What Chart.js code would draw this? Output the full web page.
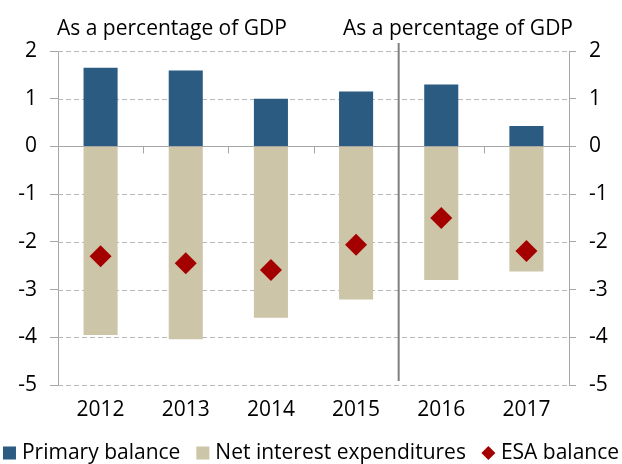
<!DOCTYPE html>
<html>
<head>
<meta charset="utf-8">
<script src="https://cdn.jsdelivr.net/npm/chart.js@4"></script>
<style>
  html, body { margin: 0; padding: 0; background: #fff; }
</style>
</head>
<body>
<canvas id="balanceChart" width="622" height="464"></canvas>
<script>
// data
const years = ["2012", "2013", "2014", "2015", "2016", "2017"];
const primaryBalance = [1.65, 1.59, 1.0, 1.15, 1.3, 0.43];
const netInterest = [-3.95, -4.04, -3.59, -3.21, -2.8, -2.62];
const esaBalance = [-2.3, -2.45, -2.59, -2.06, -1.5, -2.19];
const yMin = -5;
const yMax = 2;
const headerText = "As a percentage of GDP";
const seriesNames = ["Primary balance", "Net interest expenditures", "ESA balance"];

const BLUE = "#2B5B80";
const TAN = "#CCC5A8";
const RED = "#A50000";
const AXIS = "#A6A6A6";
const GRID = "#B8B8B8";
const FONT = "'Open Sans', sans-serif";

// zero line, category ticks on it, dashed grid and the 2015/2016 divider
const zeroLinePlugin = {
  id: "zeroLine",
  beforeDatasetsDraw(chart) {
    const { ctx, chartArea, scales } = chart;
    ctx.save();
    // dashed horizontal grid
    ctx.strokeStyle = GRID;
    ctx.lineWidth = 1;
    ctx.setLineDash([5, 3]);
    ctx.beginPath();
    for (let v = yMin; v <= yMax; v++) {
      if (v === 0) continue;
      const y = Math.round(scales.y.getPixelForValue(v)) + 0.5;
      ctx.moveTo(chartArea.left, y);
      ctx.lineTo(chartArea.right, y);
    }
    ctx.stroke();
    ctx.setLineDash([]);

    const y0 = Math.round(scales.y.getPixelForValue(0)) + 0.5;
    ctx.strokeStyle = AXIS;
    ctx.beginPath();
    ctx.moveTo(chartArea.left, y0);
    ctx.lineTo(chartArea.right, y0);
    for (let i = 0; i < years.length - 1; i++) {
      if (i === 3) continue;
      const x = Math.round(scales.x.getPixelForValue(i + 0.5)) + 0.5;
      ctx.moveTo(x, y0);
      ctx.lineTo(x, y0 + 7);
    }
    ctx.stroke();

    // divider between actual and forecast years
    const xd = scales.x.getPixelForValue(3.5);
    ctx.strokeStyle = "#7F7F7F";
    ctx.lineWidth = 2;
    ctx.beginPath();
    ctx.moveTo(xd, chartArea.top - 8);
    ctx.lineTo(xd, chartArea.bottom - 4);
    ctx.stroke();
    ctx.restore();
  },
};

const headerPlugin = {
  id: "headers",
  afterDraw(chart) {
    const { ctx, chartArea } = chart;
    ctx.save();
    ctx.fillStyle = "#000";
    ctx.font = "21px " + FONT;
    ctx.textBaseline = "alphabetic";
    ctx.textAlign = "left";
    ctx.fillText(headerText, chartArea.left - 1, 35);
    ctx.textAlign = "right";
    ctx.fillText(headerText, chartArea.right + 4, 35);
    ctx.restore();
  },
};

const legendPlugin = {
  id: "bottomLegend",
  afterDraw(chart) {
    const { ctx } = chart;
    const colors = [BLUE, TAN, RED];
    const box = 13;
    const gapText = 6;
    const gapItem = 16;
    const yc = 453;
    ctx.save();
    ctx.font = "21px " + FONT;
    let total = 0;
    seriesNames.forEach((name, i) => {
      total += box + gapText + ctx.measureText(name).width;
      if (i < seriesNames.length - 1) total += gapItem;
    });
    let x = (chart.width - total) / 2;
    seriesNames.forEach((name, i) => {
      ctx.fillStyle = colors[i];
      if (i < 2) {
        ctx.fillRect(x, yc - box / 2, box, box);
      } else {
        const r = 7;
        const cx = x + box / 2;
        ctx.beginPath();
        ctx.moveTo(cx, yc - r);
        ctx.lineTo(cx + r, yc);
        ctx.lineTo(cx, yc + r);
        ctx.lineTo(cx - r, yc);
        ctx.closePath();
        ctx.fill();
      }
      x += box + gapText;
      ctx.fillStyle = "#000";
      ctx.textBaseline = "middle";
      ctx.textAlign = "left";
      ctx.fillText(name, x, yc);
      x += ctx.measureText(name).width + gapItem;
    });
    ctx.restore();
  },
};

const ctx = document.getElementById("balanceChart").getContext("2d");

window.chart = new Chart(ctx, {
  type: "bar",
  data: {
    labels: years,
    datasets: [
      {
        label: seriesNames[0],
        data: primaryBalance,
        backgroundColor: BLUE,
        stack: "bal",
        barPercentage: 0.4,
        categoryPercentage: 1,
        order: 2,
      },
      {
        label: seriesNames[1],
        data: netInterest,
        backgroundColor: TAN,
        stack: "bal",
        barPercentage: 0.4,
        categoryPercentage: 1,
        order: 2,
      },
      {
        type: "line",
        label: seriesNames[2],
        data: esaBalance,
        stack: "esa",
        showLine: false,
        pointStyle: "rectRot",
        pointRadius: 11,
        pointBackgroundColor: RED,
        pointBorderColor: RED,
        pointBorderWidth: 0,
        order: 1,
      },
    ],
  },
  options: {
    responsive: false,
    animation: false,
    layout: { padding: { top: 51, left: 0, right: 0, bottom: 0 } },
    plugins: {
      legend: { display: false },
      title: { display: false },
      tooltip: { enabled: false },
    },
    scales: {
      x: {
        stacked: true,
        grid: { display: false, drawTicks: false },
        border: { display: false },
        ticks: { color: "#000", font: { family: FONT, size: 21 }, padding: 12 },
        afterFit: (s) => { s.height = 79; },
      },
      y: {
        stacked: true,
        min: yMin,
        max: yMax,
        position: "left",
        ticks: { stepSize: 1, color: "#000", font: { family: FONT, size: 21 }, padding: 13 },
        grid: { drawOnChartArea: false, tickColor: AXIS, tickLength: 8 },
        border: { color: AXIS },
        afterFit: (s) => { s.width = 58; },
      },
      y2: {
        min: yMin,
        max: yMax,
        position: "right",
        ticks: { stepSize: 1, color: "#000", font: { family: FONT, size: 21 }, padding: 13 },
        grid: { drawOnChartArea: false, tickColor: AXIS, tickLength: 7 },
        border: { color: AXIS },
        afterFit: (s) => { s.width = 53; },
      },
    },
  },
  plugins: [zeroLinePlugin, headerPlugin, legendPlugin],
});
</script>
</body>
</html>
